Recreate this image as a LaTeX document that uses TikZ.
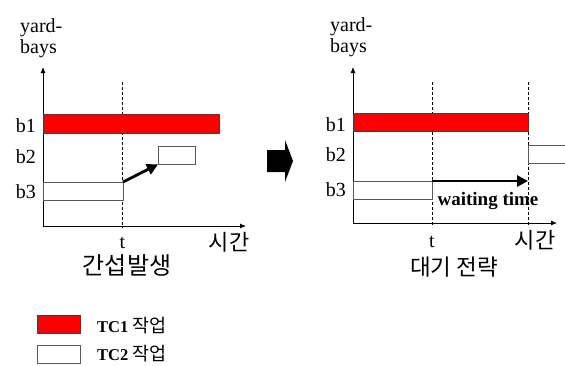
\documentclass[tikz,border=0pt]{standalone}
\usepackage{fontspec}
\setmainfont{Liberation Serif}
\newfontfamily\kr{Noto Sans CJK KR}
\usetikzlibrary{arrows.meta,positioning}

\tikzset{
  tcone/.style={draw=black!75, fill=red, inner sep=0pt, anchor=north west},
  tctwo/.style={draw=black!65, fill=white, inner sep=0pt, anchor=north west},
  axis/.style={-{Latex[length=6pt,width=5pt]}, line width=0.8pt},
  tline/.style={line width=0.5pt, dash pattern=on 3pt off 2pt},
  move/.style={-{Triangle[length=11pt,width=11pt]}, line width=2.8pt},
  lbl/.style={font=\fontsize{20}{20}\selectfont, inner sep=0pt},
  krlbl/.style={font=\fontsize{22}{22}\selectfont\kr, inner sep=0pt},
  keylbl/.style={font=\fontsize{16.5}{16.5}\selectfont\bfseries, inner sep=0pt, anchor=base west},
}

\begin{document}
\begin{tikzpicture}[x=1pt, y=-1pt]
  \useasboundingbox (0,0) rectangle (565,365);

  % left panel: interference
  \coordinate (o1) at (43,226);
  \coordinate (y1) at (43,67);
  \coordinate (x1) at (246,226);
  \draw[axis] (o1) -- (y1);
  \draw[axis] (o1) -- (x1);
  \draw[tline] (122.5,82) -- (122.5,228);

  \node[tcone, minimum width=176pt, minimum height=19pt] (b1l) at (43,114) {};
  \node[tctwo, minimum width=37pt, minimum height=18pt] (b2l) at (158,146) {};
  \node[tctwo, minimum width=79.5pt, minimum height=18pt] (b3l) at (43,182) {};
  \draw[move] (b3l.north east) -- (b2l.south west);

  \node[lbl, anchor=base west] (yd1) at (20,32) {yard-};
  \node[lbl, anchor=base west] (bs1) at (20,53) {bays};
  \node[lbl, anchor=base east] (lb1l) at (36,132) {b1};
  \node[lbl, anchor=base east] (lb2l) at (36,163) {b2};
  \node[lbl, anchor=base east] (lb3l) at (36,198) {b3};
  \node[lbl, anchor=base] (t1) at (122.5,248) {t};
  \node[krlbl] (s1) at (229,242) {시간};
  \node[krlbl, font=\fontsize{24}{24}\selectfont\kr] (c1) at (127,265) {간섭발생};

  % block arrow between panels
  \fill (267,150) -- (285,150) -- (285,140) -- (293,161) -- (285,182)
    -- (285,172) -- (267,172) -- cycle;

  % right panel: waiting strategy
  \coordinate (o2) at (353,223);
  \coordinate (y2) at (353,67);
  \coordinate (x2) at (557,223);
  \draw[axis] (o2) -- (y2);
  \draw[axis] (o2) -- (x2);
  \draw[tline] (432,82) -- (432,227);
  \draw[tline] (528,82) -- (528,227);

  \node[tcone, minimum width=175pt, minimum height=18pt] (b1r) at (353,113) {};
  \node[tctwo, minimum width=60pt, minimum height=18pt] (b2r) at (528,145) {};
  \node[tctwo, minimum width=79pt, minimum height=18pt] (b3r) at (353,181) {};
  \coordinate (wend) at (528,181);
  \draw[move] (b3r.north east) -- (wend);
  \node[lbl, font=\fontsize{19}{19}\selectfont\bfseries, anchor=base] (wt) at (488,205) {waiting time};

  \node[lbl, anchor=base west] (yd2) at (330,31) {yard-};
  \node[lbl, anchor=base west] (bs2) at (330,52) {bays};
  \node[lbl, anchor=base east] (lb1r) at (346,131) {b1};
  \node[lbl, anchor=base east] (lb2r) at (346,161) {b2};
  \node[lbl, anchor=base east] (lb3r) at (346,196) {b3};
  \node[lbl, anchor=base] (t2) at (432,247) {t};
  \node[krlbl] (s2) at (535,240) {시간};
  \node[krlbl, font=\fontsize{22.5}{22.5}\selectfont\kr] (c2) at (454,267) {대기 전략};

  % legend
  \node[tcone, minimum width=43pt, minimum height=18pt] (k1) at (37,315) {};
  \node[tctwo, minimum width=43pt, minimum height=18pt] (k2) at (37,345) {};
  \node[keylbl] (k1t) at (97,332) {TC1 {\kr\mdseries\fontsize{18.5}{18.5}\selectfont 작업}};
  \node[keylbl] (k2t) at (97,360) {TC2 {\kr\mdseries\fontsize{18.5}{18.5}\selectfont 작업}};
\end{tikzpicture}
\end{document}
